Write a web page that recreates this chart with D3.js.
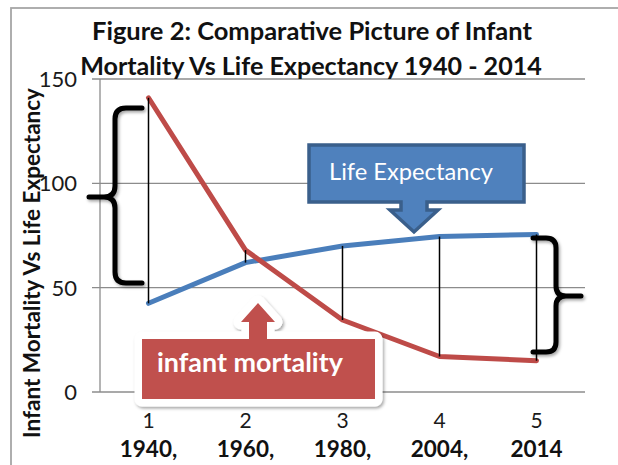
<!DOCTYPE html>
<html>
<head>
<meta charset="utf-8">
<script src="https://cdnjs.cloudflare.com/ajax/libs/d3/7.8.5/d3.min.js"></script>
<style>
  body { margin: 0; background: #fff; }
  svg { display: block; font-family: Lato, "Open Sans", sans-serif; }
</style>
</head>
<body>
<div id="chart"></div>
<script>
// chart values
var categories = ["1", "2", "3", "4", "5"];
var years = ["1940,", "1960,", "1980,", "2004,", "2014"];
var infantMortality = [141, 68, 34.5, 17, 15];
var lifeExpectancy = [42.5, 62, 70, 74.5, 75.5];
var yTicks = [0, 50, 100, 150];
var titleLines = ["Figure 2: Comparative Picture of Infant", "Mortality Vs Life Expectancy 1940 - 2014"];

var W = 618, H = 465;
var plot = { left: 100, right: 585, top: 79, bottom: 392 };

var svg = d3.select("#chart").append("svg")
  .attr("width", W).attr("height", H);

var defs = svg.append("defs");
defs.append("filter").attr("id", "shadow")
  .attr("x", "-20%").attr("y", "-20%").attr("width", "140%").attr("height", "140%")
  .append("feDropShadow").attr("dx", 1.5).attr("dy", 2).attr("stdDeviation", 1.6)
  .attr("flood-color", "#000").attr("flood-opacity", 0.35);

// shrink/grow a text so that it spans a given width
function fit(sel, width) {
  var w = sel.node().getComputedTextLength();
  sel.attr("font-size", parseFloat(sel.attr("font-size")) * width / w);
  return sel;
}

// outer frame
svg.append("rect").attr("x", 11).attr("y", 8).attr("width", 640).attr("height", 500)
  .attr("fill", "none").attr("stroke", "#a6a6a6").attr("stroke-width", 1.8);

var x = d3.scalePoint().domain(categories).range([plot.left, plot.right]).padding(0.5);
var y = d3.scaleLinear().domain([0, 150]).range([plot.bottom, plot.top]);

// grid lines + y ticks
svg.append("g").selectAll("line").data(yTicks).enter().append("line")
  .attr("x1", plot.left - 8).attr("x2", plot.right)
  .attr("y1", function(d) { return y(d); }).attr("y2", function(d) { return y(d); })
  .attr("stroke", "#8c8c8c").attr("stroke-width", 1.3);

svg.append("line").attr("x1", plot.left).attr("x2", plot.left)
  .attr("y1", plot.top).attr("y2", plot.bottom)
  .attr("stroke", "#8c8c8c").attr("stroke-width", 1.3);

svg.append("g").selectAll("text").data(yTicks).enter().append("text")
  .attr("x", 77).attr("y", function(d) { return y(d); })
  .attr("dy", "0.36em").attr("text-anchor", "end")
  .attr("font-size", 22).attr("fill", "#1a1a1a")
  .text(function(d) { return d; });

// x labels
svg.append("g").selectAll("text").data(categories).enter().append("text")
  .attr("x", function(d) { return x(d); }).attr("y", 428)
  .attr("text-anchor", "middle").attr("font-size", 21).attr("fill", "#1a1a1a")
  .text(function(d) { return d; });

svg.append("g").selectAll("text").data(years).enter().append("text")
  .attr("x", function(d, i) { return x(categories[i]); }).attr("y", 457)
  .attr("text-anchor", "middle").attr("font-size", 22.5).attr("font-weight", "bold")
  .attr("fill", "#111")
  .text(function(d) { return d; });

// series
var line = d3.line()
  .x(function(d, i) { return x(categories[i]); })
  .y(function(d) { return y(d); });

svg.append("path").datum(lifeExpectancy).attr("d", line)
  .attr("fill", "none").attr("stroke", "#4a7ebb").attr("stroke-width", 5)
  .attr("stroke-linecap", "round").attr("stroke-linejoin", "round");

svg.append("path").datum(infantMortality).attr("d", line)
  .attr("fill", "none").attr("stroke", "#be4b48").attr("stroke-width", 5)
  .attr("stroke-linecap", "round").attr("stroke-linejoin", "round");

// high-low lines
svg.append("g").selectAll("line").data(categories).enter().append("line")
  .attr("x1", function(d) { return x(d); }).attr("x2", function(d) { return x(d); })
  .attr("y1", function(d, i) { return y(infantMortality[i]); })
  .attr("y2", function(d, i) { return y(lifeExpectancy[i]); })
  .attr("stroke", "#000").attr("stroke-width", 1.5);

// braces
var braces = svg.append("g").attr("fill", "none").attr("stroke", "#000")
  .attr("stroke-width", 5).attr("stroke-linecap", "round").attr("stroke-linejoin", "round")
  .attr("filter", "url(#shadow)");

braces.append("path")
  .attr("d", "M142,108 H126 Q115,108 115,119 V186 Q115,197 104,197 H89 " +
             "M104,197 Q115,197 115,208 V272 Q115,283 126,283 H142");

braces.append("path")
  .attr("d", "M533,238 H546 Q556,238 556,248 V286 Q556,296 566,296 H581 " +
             "M566,296 Q556,296 556,306 V342 Q556,352 546,352 H533");

// "Life Expectancy" callout
var blue = svg.append("g");
blue.append("path")
  .attr("d", "M309,145 H524 V202 H427 V210 H438 L414,232 L390,210 H401 V202 H309 Z")
  .attr("fill", "#4f81bd").attr("stroke", "#3a5f8b").attr("stroke-width", 3.5)
  .attr("stroke-linejoin", "miter");
fit(blue.append("text").attr("x", 329).attr("y", 180).attr("font-size", 22)
  .attr("fill", "#fff").text("Life Expectancy"), 164);

// "infant mortality" callout
var red = svg.append("g");
var redShape = "M142,339 H249 V322 H241 L258,303 L275,322 H267 V339 H375 V399 H142 Z";
red.append("path").attr("d", redShape)
  .attr("fill", "#fff").attr("stroke", "#fff").attr("stroke-width", 15)
  .attr("stroke-linejoin", "round").attr("filter", "url(#shadow)");
red.append("path").attr("d", redShape).attr("fill", "#c0504d");
fit(red.append("text").attr("x", 157).attr("y", 372).attr("font-size", 23)
  .attr("font-weight", "bold").attr("fill", "#fff").text("infant mortality"), 186);

// title
var title = svg.append("g");
fit(title.append("text").attr("x", 312).attr("y", 40).attr("text-anchor", "middle")
  .attr("font-size", 24).attr("font-weight", "bold").attr("fill", "#111")
  .text(titleLines[0]), 440);
fit(title.append("text").attr("x", 311).attr("y", 75).attr("text-anchor", "middle")
  .attr("font-size", 24).attr("font-weight", "bold").attr("fill", "#111")
  .text(titleLines[1]), 462);

// y axis title
fit(svg.append("text").attr("transform", "translate(40,263) rotate(-90)")
  .attr("text-anchor", "middle").attr("font-size", 20).attr("font-weight", "bold")
  .attr("fill", "#111").text("Infant Mortality Vs  Life Expectancy"), 350);
</script>
</body>
</html>
